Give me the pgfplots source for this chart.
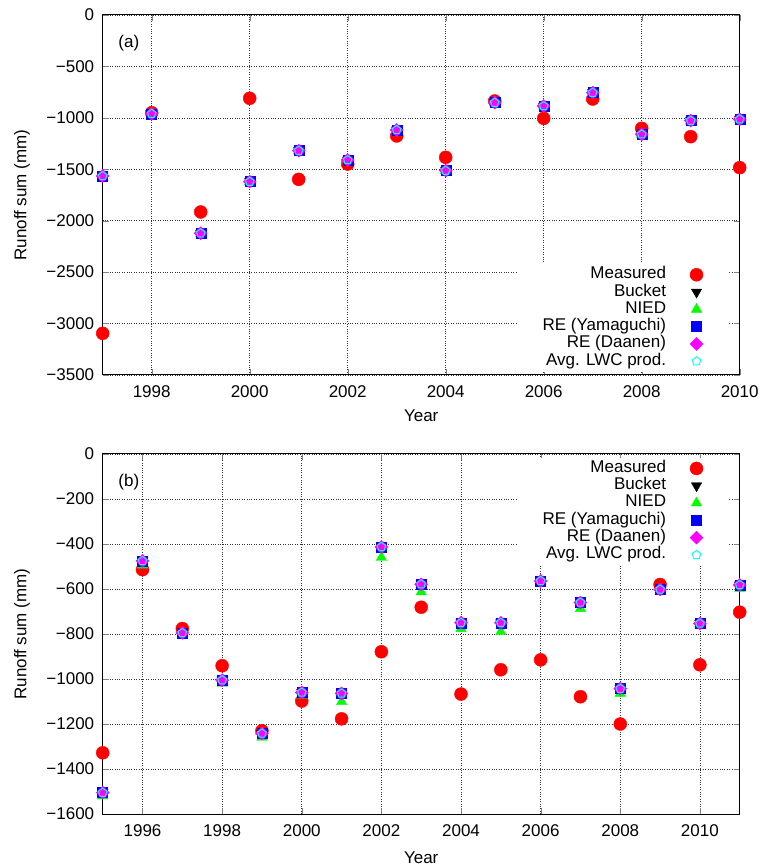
\documentclass[border=0pt]{standalone}
\usepackage{fontspec}
\setmainfont{Liberation Sans}
\usepackage{pgfplots}
\pgfplotsset{compat=1.18}
\usepackage{pgfplotstable}

\definecolor{gpred}{RGB}{255,0,0}
\definecolor{gpgreen}{RGB}{0,255,0}
\definecolor{gpblue}{RGB}{0,0,255}
\definecolor{gpmag}{RGB}{255,0,255}
\definecolor{gpcyan}{RGB}{0,255,255}

\pgfplotstableread{
year meas model nied
1997 -3095 -1565 -1565
1998 -950 -960 -960
1999 -1915 -2122 -2122
2000 -810 -1620 -1620
2001 -1598 -1319 -1319
2002 -1449 -1410 -1410
2003 -1176 -1118 -1118
2004 -1384 -1513 -1513
2005 -836 -852 -852
2006 -1005 -885 -885
2007 -817 -755 -755
2008 -1102 -1160 -1160
2009 -1183 -1027 -1027
2010 -1484 -1014 -1014
}\dataA

\pgfplotstableread{
year meas model nied
1995 -1328 -1505 -1520
1996 -514 -475 -494
1997 -776 -795 -805
1998 -941 -1005 -1020
1999 -1230 -1242 -1260
2000 -1098 -1060 -1072
2001 -1177 -1064 -1101
2002 -879 -413 -460
2003 -681 -579 -613
2004 -1067 -750 -776
2005 -959 -750 -790
2006 -915 -564 -576
2007 -1079 -660 -687
2008 -1200 -1043 -1064
2009 -580 -602 -605
2010 -937 -753 -756
2011 -703 -582 -598
}\dataB

\pgfplotsset{
  myaxis/.style={
    scale only axis, width=637pt, height=360pt,
    tick pos=both, tick align=inside, major tick length=6pt,
    grid=major, grid style={dash pattern=on 0.8pt off 1.6pt, black!80, line width=0.6pt},
    axis line style={line width=1pt},
    font=\fontsize{17}{20}\selectfont,
    /pgf/number format/assume math mode=true,
    /pgf/number format/1000 sep={},
    xticklabel style={yshift=-7pt},
    yticklabel style={xshift=-5pt},
    clip=false,
    legend cell align=right,
    legend plot pos=right,
    legend style={draw=none, fill=white, inner xsep=25pt, inner ysep=2pt,
      column sep=24pt, row sep=0pt,
      nodes={inner sep=0pt, text height=12.6pt, text depth=4.7pt}},
    ylabel={Runoff sum (mm)}, xlabel={Year},
    ylabel style={at={(axis description cs:-0.1267,0.5)}, anchor=center},
  },
  pmeas/.style={only marks, mark=*, color=gpred, mark size=6.5pt},
  pbucket/.style={only marks, mark=triangle*, color=black, mark size=6pt, mark options={rotate=180}},
  pnied/.style={only marks, mark=triangle*, color=gpgreen, mark size=6pt},
  pyama/.style={only marks, mark=square*, color=gpblue, mark size=5pt},
  pdaan/.style={only marks, mark=diamond*, color=gpmag, mark size=6.5pt, mark options={xscale=1.33}},
  pavg/.style={only marks, mark=pentagon, color=gpcyan, mark size=4.5pt, mark options={line width=1pt}},
}

\begin{document}
\begin{tikzpicture}
\path[use as bounding box] (0,0) rectangle (762pt,868pt);

\begin{axis}[myaxis,
  at={(102.7pt,493pt)}, anchor=south west,
  xmin=1997, xmax=2010, ymin=-3500, ymax=0,
  xtick={1998,2000,...,2010},
  ytick={-3500,-3000,-2500,-2000,-1500,-1000,-500,0},
  yticklabels={−3500,−3000,−2500,−2000,−1500,−1000,−500,0},
  xlabel style={at={(axis description cs:0.5,-0.114)}, anchor=center},
  legend style={at={(0.982,0.008)}, anchor=south east},
]
\addplot[pmeas] table[x=year,y=meas] {\dataA};
\addlegendentry{Measured}
\addplot[pbucket] table[x=year,y=model] {\dataA};
\addlegendentry{Bucket}
\addplot[pnied] table[x=year,y=nied] {\dataA};
\addlegendentry{NIED}
\addplot[pyama] table[x=year,y=model] {\dataA};
\addlegendentry{RE (Yamaguchi)}
\addplot[pdaan] table[x=year,y=model] {\dataA};
\addlegendentry{RE (Daanen)}
\addplot[pavg] table[x=year,y=model] {\dataA};
\addlegendentry{Avg. LWC prod.}
\node at (axis description cs:0.041,0.922) {(a)};
\end{axis}

\begin{axis}[myaxis,
  at={(102.7pt,54pt)}, anchor=south west,
  xmin=1995, xmax=2011, ymin=-1600, ymax=0,
  xtick={1996,1998,...,2010},
  ytick={-1600,-1400,-1200,-1000,-800,-600,-400,-200,0},
  yticklabels={−1600,−1400,−1200,−1000,−800,−600,−400,−200,0},
  xlabel style={at={(axis description cs:0.5,-0.122)}, anchor=center},
  legend style={at={(0.982,0.99)}, anchor=north east},
]
\addplot[pmeas] table[x=year,y=meas] {\dataB};
\addlegendentry{Measured}
\addplot[pbucket] table[x=year,y=model] {\dataB};
\addlegendentry{Bucket}
\addplot[pnied] table[x=year,y=nied] {\dataB};
\addlegendentry{NIED}
\addplot[pyama] table[x=year,y=model] {\dataB};
\addlegendentry{RE (Yamaguchi)}
\addplot[pdaan] table[x=year,y=model] {\dataB};
\addlegendentry{RE (Daanen)}
\addplot[pavg] table[x=year,y=model] {\dataB};
\addlegendentry{Avg. LWC prod.}
\node at (axis description cs:0.041,0.922) {(b)};
\end{axis}
\end{tikzpicture}
\end{document}
